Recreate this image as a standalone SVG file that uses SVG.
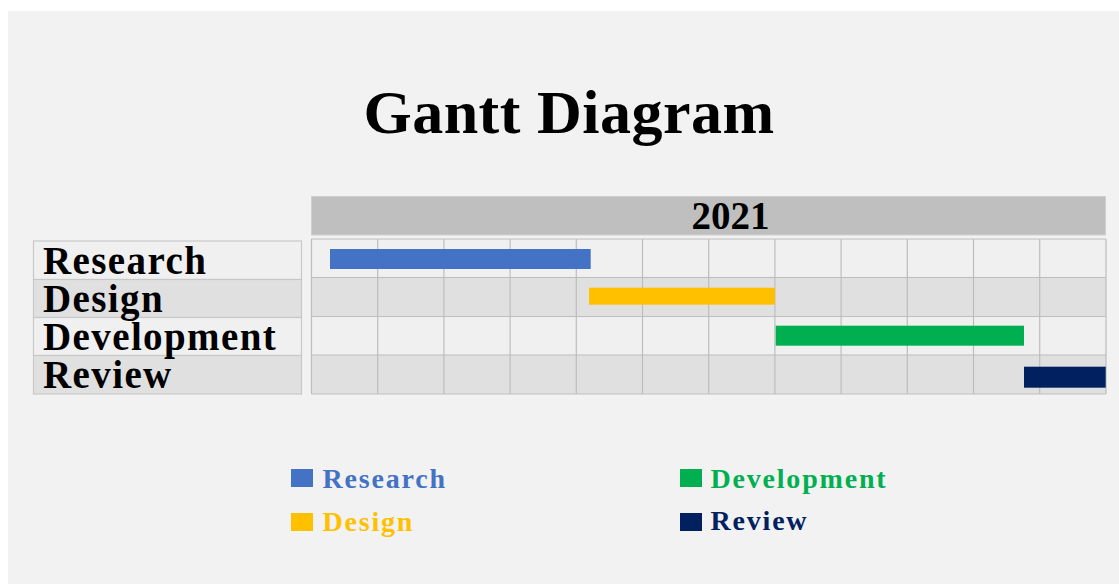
<svg xmlns="http://www.w3.org/2000/svg" width="1119" height="584" viewBox="0 0 1119 584">
<style>
.t{font-family:"Liberation Serif","Times New Roman",serif;font-weight:bold}
.lab{font-size:39px;letter-spacing:1.4px;fill:#000}
.leg{font-size:28px;letter-spacing:1.8px}
.grid line{stroke:#bdbdbd;stroke-width:1.2}
.lt rect{stroke:#c8c8c8;stroke-width:1.2}
</style>
<rect x="0" y="0" width="1119" height="584" fill="#ffffff"/>
<rect x="8" y="11" width="1111" height="573" fill="#f2f2f2"/>
<text class="t" x="569" y="133" font-size="62" letter-spacing="0.5" text-anchor="middle">Gantt Diagram</text>

<g id="header">
<rect x="311.5" y="196.5" width="794" height="38.5" fill="#bfbfbf" stroke="#d0d0d0" stroke-width="1"/>
<text class="t" x="730.5" y="229" font-size="39" text-anchor="middle">2021</text>
</g>

<g id="grid" class="grid">
<rect x="311.5" y="239" width="794.5" height="38.5" fill="#f0f0f0"/>
<rect x="311.5" y="277.5" width="794.5" height="39" fill="#e0e0e0"/>
<rect x="311.5" y="316.5" width="794.5" height="38.5" fill="#f0f0f0"/>
<rect x="311.5" y="355" width="794.5" height="39" fill="#e0e0e0"/>
<line x1="311.5" y1="239" x2="1106" y2="239"/>
<line x1="311.5" y1="277.5" x2="1106" y2="277.5"/>
<line x1="311.5" y1="316.5" x2="1106" y2="316.5"/>
<line x1="311.5" y1="355" x2="1106" y2="355"/>
<line x1="311.5" y1="394" x2="1106" y2="394"/>
<line x1="311.5" y1="239" x2="311.5" y2="394"/>
<line x1="377.7" y1="239" x2="377.7" y2="394"/>
<line x1="443.9" y1="239" x2="443.9" y2="394"/>
<line x1="510.1" y1="239" x2="510.1" y2="394"/>
<line x1="576.3" y1="239" x2="576.3" y2="394"/>
<line x1="642.5" y1="239" x2="642.5" y2="394"/>
<line x1="708.7" y1="239" x2="708.7" y2="394"/>
<line x1="774.9" y1="239" x2="774.9" y2="394"/>
<line x1="841.1" y1="239" x2="841.1" y2="394"/>
<line x1="907.3" y1="239" x2="907.3" y2="394"/>
<line x1="973.5" y1="239" x2="973.5" y2="394"/>
<line x1="1039.7" y1="239" x2="1039.7" y2="394"/>
<line x1="1106" y1="239" x2="1106" y2="394"/>
</g>

<g id="labels" class="lt">
<rect x="33.5" y="241" width="268" height="38.5" fill="#f0f0f0"/>
<rect x="33.5" y="279.5" width="268" height="38" fill="#e0e0e0"/>
<rect x="33.5" y="317.5" width="268" height="38" fill="#f0f0f0"/>
<rect x="33.5" y="355.5" width="268" height="38.5" fill="#e0e0e0"/>
<text class="t lab" x="43" y="273.5">Research</text>
<text class="t lab" x="43" y="311.5">Design</text>
<text class="t lab" x="43" y="349.5">Development</text>
<text class="t lab" x="43" y="387.5">Review</text>
</g>

<g id="bars">
<rect id="bar-research" x="330" y="249" width="260.7" height="20" fill="#4472c4"/>
<rect id="bar-design" x="589" y="287.7" width="186" height="17" fill="#ffc000"/>
<rect id="bar-development" x="775.7" y="325.7" width="248.3" height="20" fill="#00b050"/>
<rect id="bar-review" x="1024" y="366.7" width="81.7" height="21" fill="#002060"/>
</g>

<g id="legend">
<g id="legend-research">
<rect x="291" y="469" width="22" height="18" fill="#4472c4"/>
<text class="t leg" x="322.5" y="488" fill="#4472c4">Research</text>
</g>
<g id="legend-design">
<rect x="291" y="513" width="22" height="18" fill="#ffc000"/>
<text class="t leg" x="322.5" y="531" fill="#ffc000">Design</text>
</g>
<g id="legend-development">
<rect x="680" y="469" width="22" height="18" fill="#00b050"/>
<text class="t leg" x="710.5" y="488" fill="#00b050">Development</text>
</g>
<g id="legend-review">
<rect x="680" y="513" width="22" height="18" fill="#002060"/>
<text class="t leg" x="710.5" y="530" fill="#002060">Review</text>
</g>
</g>
</svg>
